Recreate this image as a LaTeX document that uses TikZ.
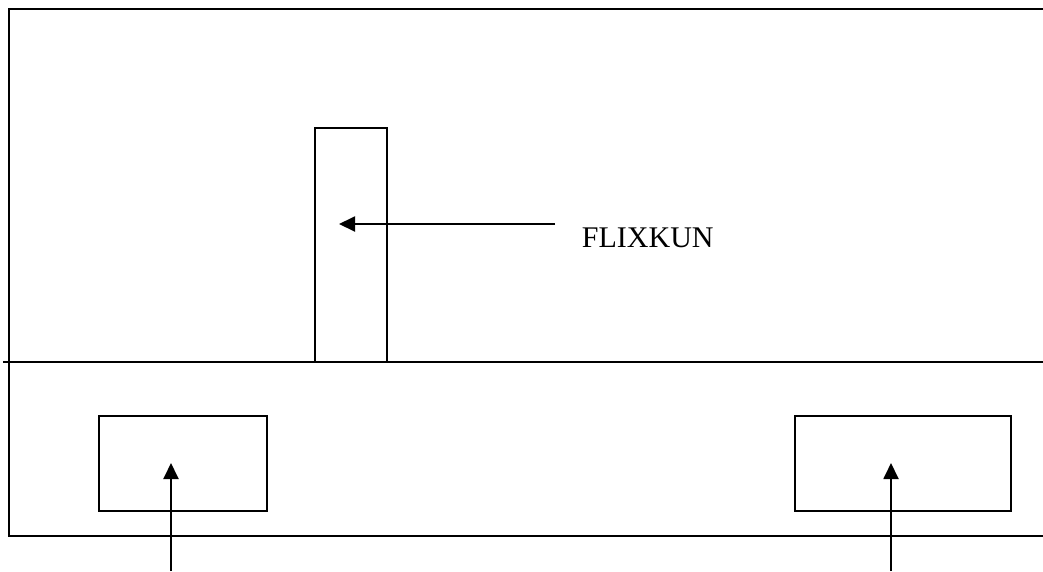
\documentclass[tikz,border=0pt]{standalone}
\usepackage{fontspec}
\setmainfont{Liberation Serif}
\usetikzlibrary{arrows.meta}

\begin{document}
\begin{tikzpicture}[x=1pt,y=-1pt,line join=miter,line width=1.9pt]
				\useasboundingbox (0,0) rectangle (1043,571);
				\coordinate (TL) at (9,9);
				\coordinate (TR) at (1043,9);
				\coordinate (BL) at (9,536);
				\coordinate (BR) at (1043,536);
				\coordinate (ML) at (3,362);
				\coordinate (MR) at (1043,362);
				\draw (TR)--(TL)--(BL)--(BR) (ML)--(MR);
				\draw (315,362) rectangle (387,128);
				\draw (99,416) rectangle (267,511);
				\draw (795,416) rectangle (1011,511);
				\node[anchor=base west,inner sep=0pt,font=\fontsize{30}{36}\selectfont] (flix) at (581,247) {FLIXKUN};
				\coordinate (P) at (555,224);
				\coordinate (Q) at (339,224);
				\draw[-{Triangle[length=16pt,width=15pt]}] (P)--(Q);
				\foreach \x/\n in {171/L,891/R}{
					\coordinate (S\n) at (\x,571);
					\coordinate (E\n) at (\x,463);
					\draw[-{Triangle[length=16pt,width=15pt]}] (S\n)--(E\n);}
			\end{tikzpicture}
\end{document}
